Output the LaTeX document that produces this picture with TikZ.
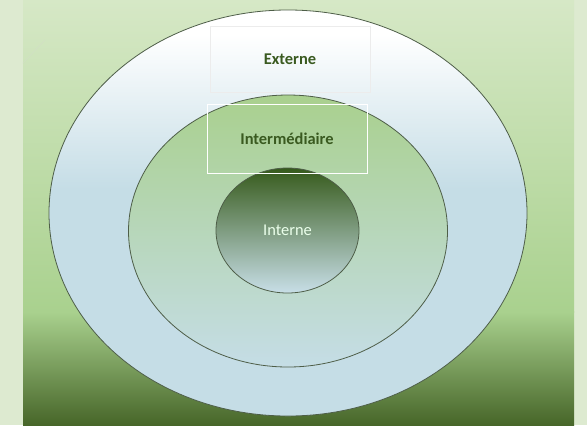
\documentclass[tikz,border=0pt]{standalone}
\usepackage{fontspec}
\setmainfont{Carlito}
\usetikzlibrary{shapes.geometric}
\definecolor{stripbg}{HTML}{DDEAD0}
\definecolor{paneltop}{HTML}{D6E8C6}
\definecolor{panelmid}{HTML}{A9D18E}
\definecolor{paneldark}{HTML}{476629}
\definecolor{ringblue}{HTML}{C5DDE6}
\definecolor{ringgreen}{HTML}{A9D08E}
\definecolor{coredark}{HTML}{365A1B}
\definecolor{rimline}{HTML}{4E5E48}
\definecolor{labelgreen}{HTML}{3A5A20}
\pgfdeclareverticalshading{outershade}{100bp}{color(0bp)=(ringblue); color(53bp)=(ringblue); color(72bp)=(white); color(100bp)=(white)}

\begin{document}
\begin{tikzpicture}[x=1bp,y=-1bp,
		ring/.style={ellipse,draw=rimline,line width=0.8bp,inner sep=0pt},
		lblbox/.style={draw=white,line width=0.6bp,inner sep=0pt,font=\fontsize{16.5}{18}\selectfont\bfseries,text=labelgreen}]
	\useasboundingbox (0,0) rectangle (587,425);
	\fill[stripbg] (0,0) rectangle (587,425);
	\fill[top color=paneltop,bottom color=panelmid] (23,0) rectangle (574,312);
	\fill[top color=panelmid,bottom color=paneldark] (23,311.5) rectangle (574,425);
	\draw[paneltop!85!black!60,line width=0.6bp,opacity=0.5] (23,63) -- (45,40);
	%
	\node[ring,shading=outershade,minimum width=478bp,minimum height=406bp] (externe) at (288,213) {};
	\node[ring,top color=ringgreen,bottom color=ringblue,minimum width=319bp,minimum height=272bp] (interm) at (288,231) {};
	\node[ring,top color=coredark,bottom color=ringblue!95!white,minimum width=143bp,minimum height=125bp] (interne) at (287.5,230.5) {};
	%
	\node[lblbox,draw=white!85!gray,minimum width=160bp,minimum height=66bp] (lblext) at (290,59) {Externe};
	\node[lblbox,minimum width=160bp,minimum height=69bp] (lblint) at (287,138.5) {Intermédiaire};
	\node[font=\fontsize{16.5}{18}\selectfont,text=white!92!green] (lblcore) at (interne) {Interne};
\end{tikzpicture}
\end{document}
